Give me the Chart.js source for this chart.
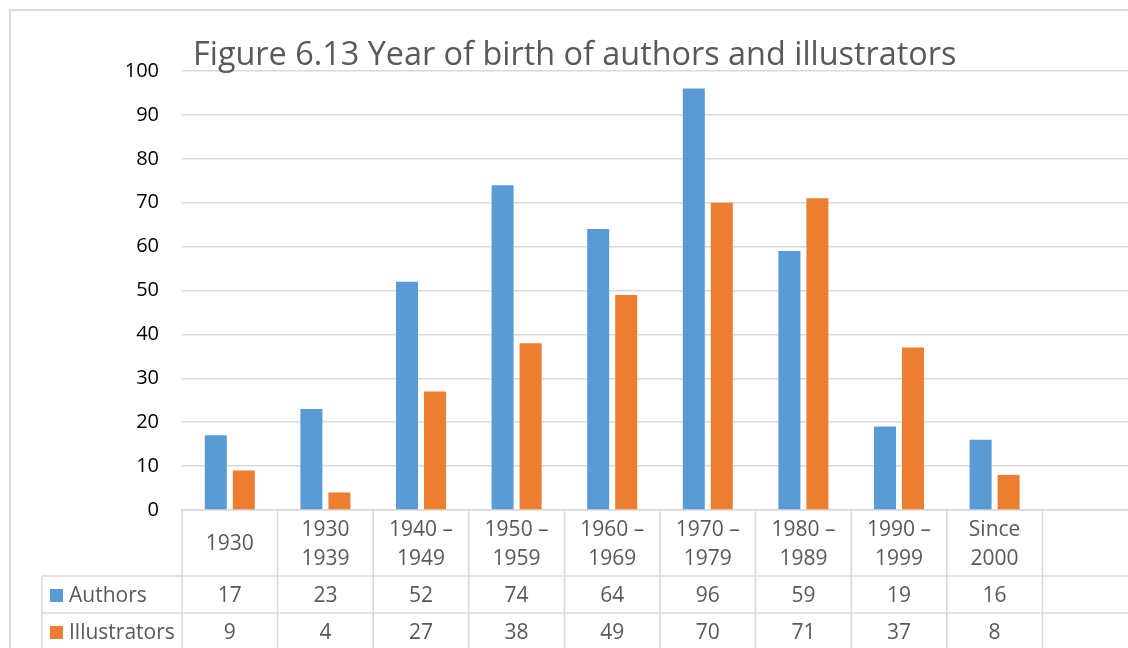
<!DOCTYPE html>
<html>
<head>
<meta charset="utf-8">
<script src="https://cdn.jsdelivr.net/npm/chart.js@4.4.0/dist/chart.umd.min.js"></script>
<style>
  html, body { margin: 0; padding: 0; overflow: hidden; background: #fff; width: 1128px; height: 648px; }
  canvas { position: absolute; left: 0; top: 0; }
</style>
</head>
<body>
<canvas id="c" width="1160" height="690"></canvas>
<script>
// Birth-decade groups (each entry is the header cell's lines)
const categories = [
  ['1930'], ['1930', '1939'], ['1940 –', '1949'], ['1950 –', '1959'], ['1960 –', '1969'],
  ['1970 –', '1979'], ['1980 –', '1989'], ['1990 –', '1999'], ['Since', '2000']
];
const authors = [17, 23, 52, 74, 64, 96, 59, 19, 16];
const illustrators = [9, 4, 27, 38, 49, 70, 71, 37, 8];
const seriesNames = ['Authors', 'Illustrators'];
const titleText = 'Figure 6.13 Year of birth of authors and illustrators';

const BLUE = '#5b9bd5';
const ORANGE = '#ed7d31';
const GRID = '#d9d9d9';
const TEXT = '#595959';
const FONT = '"Open Sans", Lato, sans-serif';

// Outer chart frame
const framePlugin = {
  id: 'frame',
  beforeDraw(chart) {
    const ctx = chart.ctx;
    ctx.save();
    ctx.strokeStyle = GRID;
    ctx.lineWidth = 2;
    ctx.beginPath();
    ctx.moveTo(10, chart.height);
    ctx.lineTo(10, 10);
    ctx.lineTo(chart.width, 10);
    ctx.stroke();
    ctx.restore();
  }
};

// Data table under the plot, aligned to the category scale
const tablePlugin = {
  id: 'dataTable',
  afterDraw(chart) {
    const { ctx, chartArea, scales: { x } } = chart;
    const n = x.getLabels().length;
    const step = x.getPixelForValue(1) - x.getPixelForValue(0);
    const left0 = x.getPixelForValue(0) - step / 2;
    const top = chartArea.bottom;
    const headH = 66, rowH = 37, tableLeft = 42;
    const r1 = top + headH, r2 = r1 + rowH, r3 = r2 + rowH;

    ctx.save();
    ctx.strokeStyle = GRID;
    ctx.lineWidth = 1.5;
    ctx.beginPath();
    // horizontal rules
    ctx.moveTo(tableLeft, r1); ctx.lineTo(chart.width, r1);
    ctx.moveTo(tableLeft, r2); ctx.lineTo(chart.width, r2);
    ctx.moveTo(tableLeft, r3); ctx.lineTo(chart.width, r3);
    // left edge of the series-name column
    ctx.moveTo(tableLeft, r1); ctx.lineTo(tableLeft, r3 + 20);
    // column separators
    for (let i = 0; i <= n; i++) {
      const xx = left0 + step * i;
      ctx.moveTo(xx, top); ctx.lineTo(xx, r3 + 20);
    }
    ctx.stroke();

    ctx.fillStyle = TEXT;
    ctx.font = '21px ' + FONT;
    ctx.textAlign = 'center';
    ctx.textBaseline = 'middle';
    const lineGap = 29;
    categories.forEach((lines, i) => {
      const cx = x.getPixelForValue(i);
      const cy = top + headH / 2 + 1.5;
      const y0 = cy - (lines.length - 1) * lineGap / 2;
      lines.forEach((t, k) => ctx.fillText(t, cx, y0 + k * lineGap));
    });

    const rows = [authors, illustrators];
    const rowTops = [r1, r2];
    rows.forEach((vals, ri) => {
      const cy = rowTops[ri] + rowH / 2 + 1.5;
      ctx.textAlign = 'center';
      ctx.fillStyle = TEXT;
      vals.forEach((v, i) => ctx.fillText(String(v), x.getPixelForValue(i), cy));
      // legend key + series name
      ctx.fillStyle = chart.data.datasets[ri].backgroundColor;
      ctx.fillRect(50, cy - 7, 13, 13);
      ctx.fillStyle = TEXT;
      ctx.textAlign = 'left';
      ctx.fillText(seriesNames[ri], 69, cy);
    });
    ctx.restore();
  }
};

// Title laid over the top of the plot
const titlePlugin = {
  id: 'overTitle',
  afterDraw(chart) {
    const ctx = chart.ctx;
    ctx.save();
    ctx.fillStyle = TEXT;
    ctx.font = '32.4px ' + FONT;
    ctx.textAlign = 'left';
    ctx.textBaseline = 'alphabetic';
    ctx.fillText(titleText, 193, 65);
    ctx.restore();
  }
};

new Chart(document.getElementById('c'), {
  type: 'bar',
  data: {
    labels: [...categories.map(c => c.join(' ')), ''],
    datasets: [
      { label: seriesNames[0], data: authors, backgroundColor: BLUE },
      { label: seriesNames[1], data: illustrators, backgroundColor: ORANGE }
    ]
  },
  options: {
    responsive: false,
    animation: false,
    layout: { padding: { left: 0, top: 71, right: 22, bottom: 180 } },
    datasets: { bar: { categoryPercentage: 0.586, barPercentage: 0.786 } },
    plugins: { legend: { display: false }, tooltip: { enabled: false }, title: { display: false } },
    scales: {
      x: {
        grid: { display: false },
        border: { display: true, color: GRID, width: 1.5 },
        ticks: { display: false },
        afterFit(scale) { scale.height = 0; }
      },
      y: {
        min: 0, max: 100,
        ticks: { stepSize: 10, padding: 23, color: '#000', font: { family: FONT, size: 20 } },
        grid: { color: GRID, lineWidth: 1.5, drawTicks: false },
        border: { display: false },
        afterFit(scale) { scale.width = 182; }
      }
    }
  },
  plugins: [framePlugin, tablePlugin, titlePlugin]
});
</script>
</body>
</html>
